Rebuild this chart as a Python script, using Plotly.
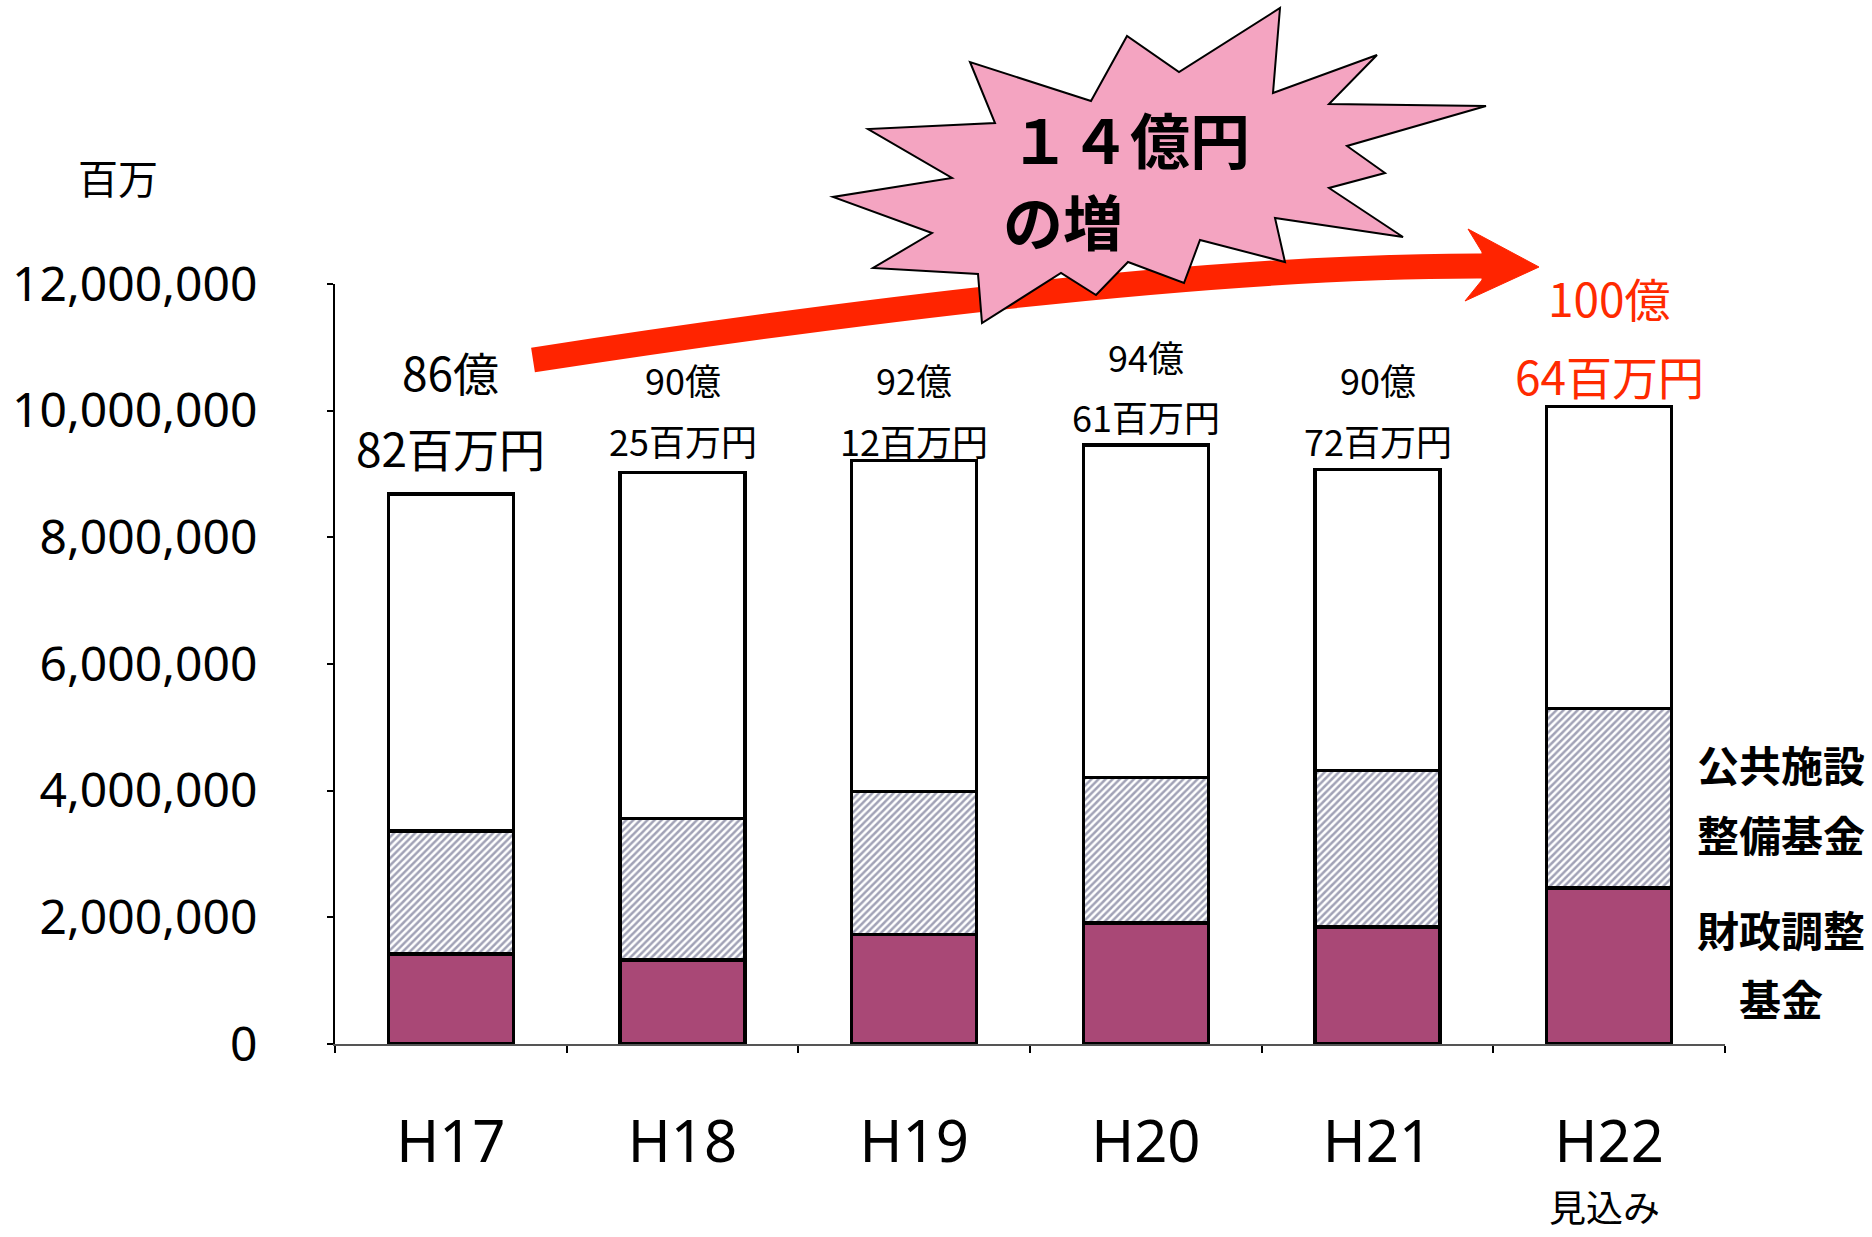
import plotly.graph_objects as go

# ---------------- data (thousand yen) ----------------
categories = ["H17", "H18", "H19", "H20", "H21", "H22"]
zaisei_chosei = [1420000, 1330000, 1730000, 1910000, 1850000, 2460000]      # 財政調整基金
kokyo_shisetsu = [1940000, 2230000, 2260000, 2300000, 2470000, 2840000]     # 公共施設整備基金
other_funds = [5322000, 5465000, 5222000, 5251000, 4752000, 4764000]        # その他
label_oku = ["86億", "90億", "92億", "94億", "90億", "100億"]
label_hyakuman = ["82百万円", "25百万円", "12百万円", "61百万円", "72百万円", "64百万円"]
y_ticks = [0, 2000000, 4000000, 6000000, 8000000, 10000000, 12000000]

# label positions (data units) for the two lines above each bar
label_oku_y = [10.62e6, 10.50e6, 10.50e6, 10.86e6, 10.50e6, 11.80e6]
label_hyakuman_y = [9.42e6, 9.53e6, 9.53e6, 9.91e6, 9.53e6, 10.57e6]
label_size = [46, 36, 36, 36, 36, 46]
label_color = ["black", "black", "black", "black", "black", "#FF2A00"]

W, H = 1872, 1237
ML, MR, MT, MB = 335, 147, 284, 193
PW, PH = W - ML - MR, H - MT - MB


def pp(x, y):
    """pixel -> paper coords"""
    return ((x - ML) / PW, (H - MB - y) / PH)


CJK = "Noto Sans CJK JP"
PURPLE = "#A94876"
RED = "#FF2400"

fig = go.Figure()
line = dict(color="black", width=3.5)
fig.add_trace(go.Bar(x=categories, y=zaisei_chosei, marker=dict(color=PURPLE, line=line),
                     name="財政調整基金"))
fig.add_trace(go.Bar(x=categories, y=kokyo_shisetsu,
                     marker=dict(color="white", line=line,
                                 pattern=dict(shape="/", fgcolor="#43466e", bgcolor="white",
                                              size=5, solidity=0.5)),
                     name="公共施設整備基金"))
fig.add_trace(go.Bar(x=categories, y=other_funds, marker=dict(color="white", line=line),
                     name="その他"))

ann = []
for i, c in enumerate(categories):
    ann.append(dict(x=c, y=label_oku_y[i], xref="x", yref="y", text=label_oku[i],
                    showarrow=False, font=dict(family=CJK, size=label_size[i], color=label_color[i]),
                    xanchor="center", yanchor="middle"))
    ann.append(dict(x=c, y=label_hyakuman_y[i], xref="x", yref="y", text=label_hyakuman[i],
                    showarrow=False, font=dict(family=CJK, size=label_size[i], color=label_color[i]),
                    xanchor="center", yanchor="middle"))

# unit label
ux, uy = pp(118, 177)
ann.append(dict(x=ux, y=uy, xref="paper", yref="paper", text="百万", showarrow=False,
                font=dict(family=CJK, size=40, color="black"), xanchor="center", yanchor="middle"))
# 見込み
mx, my = pp(1604, 1206)
ann.append(dict(x=mx, y=my, xref="paper", yref="paper", text="見込み", showarrow=False,
                font=dict(family=CJK, size=37, color="black"), xanchor="center", yanchor="middle"))
# right side legend labels
for txt, yy in [("公共施設", 763), ("整備基金", 833), ("財政調整", 928), ("基金", 997)]:
    ax_, ay_ = pp(1781, yy)
    ann.append(dict(x=ax_, y=ay_, xref="paper", yref="paper", text="<b>%s</b>" % txt,
                    showarrow=False, font=dict(family=CJK, size=42, color="black"),
                    xanchor="center", yanchor="middle"))
# starburst text
for txt, xx, yy in [("１４億円", 1008, 137), ("の増", 1001, 220)]:
    ax_, ay_ = pp(xx, yy)
    ann.append(dict(x=ax_, y=ay_, xref="paper", yref="paper", text="<b>%s</b>" % txt,
                    showarrow=False, font=dict(family=CJK, size=60, color="black"),
                    xanchor="left", yanchor="middle"))

# red arrow shaft (quadratic curve) and head
p0 = pp(533, 360)
pc = pp(1150, 265)
p2 = pp(1484, 266)
shaft = "M %f,%f Q %f,%f %f,%f" % (p0 + pc + p2)
head_pts = [pp(1482, 252), pp(1468, 229), pp(1539, 267), pp(1465, 301), pp(1482, 280)]
head = "M " + " L ".join("%f,%f" % p for p in head_pts) + " Z"

star_px = [(1280, 8), (1273, 93), (1377, 55), (1329, 104), (1486, 106), (1347, 146),
           (1385, 173), (1329, 188), (1403, 237), (1275, 218), (1285, 262), (1200, 240),
           (1184, 283), (1128, 262), (1096, 295), (1061, 273), (982, 323), (978, 274),
           (873, 268), (932, 233), (833, 197), (952, 178), (868, 129), (995, 123),
           (970, 62), (1091, 101), (1127, 36), (1179, 72)]
star = "M " + " L ".join("%f,%f" % pp(*p) for p in star_px) + " Z"

shapes = [
    dict(type="path", path=shaft, xref="paper", yref="paper", line=dict(color=RED, width=25),
         fillcolor="rgba(0,0,0,0)", layer="above"),
    dict(type="path", path=head, xref="paper", yref="paper", line=dict(color=RED, width=1),
         fillcolor=RED, layer="above"),
    dict(type="path", path=star, xref="paper", yref="paper", line=dict(color="black", width=2),
         fillcolor="#F4A4C1", layer="above"),
]

fig.update_layout(
    width=W, height=H,
    margin=dict(l=ML, r=MR, t=MT, b=MB, pad=0),
    barmode="stack", bargap=0.46,
    showlegend=False,
    paper_bgcolor="white", plot_bgcolor="white",
    annotations=ann, shapes=shapes,
    xaxis=dict(type="category", categoryorder="array", categoryarray=categories,
               showline=True, linecolor="#555", linewidth=2, showgrid=False,
               ticks="outside", tickson="boundaries", ticklen=7, tickwidth=2, tickcolor="black",
               tickfont=dict(family="Noto Sans", size=58, color="black"),
               ticklabelstandoff=46, zeroline=False),
    yaxis=dict(range=[0, 12000000], tickmode="array", tickvals=y_ticks,
               ticktext=["{:,}".format(v) for v in y_ticks],
               showline=True, linecolor="black", linewidth=2, showgrid=False, zeroline=False,
               ticks="outside", ticklen=6, tickwidth=2, tickcolor="black",
               tickfont=dict(family="Noto Sans", size=48, color="black"),
               ticklabelstandoff=60),
    xaxis2=dict(overlaying="x", anchor="y", side="bottom", range=[-0.5, 5.5],
                tickmode="array", tickvals=[-0.5, 0.5, 1.5, 2.5, 3.5, 4.5, 5.5],
                ticks="inside", ticklen=7, tickwidth=2, tickcolor="black",
                showticklabels=False, showline=False, showgrid=False, zeroline=False),
    yaxis2=dict(overlaying="y", anchor="x", side="left", range=[0, 12000000],
                tickmode="array", tickvals=y_ticks,
                ticks="inside", ticklen=6, tickwidth=2, tickcolor="black",
                showticklabels=False, showline=False, showgrid=False, zeroline=False),
)

fig.write_html("out.html")
